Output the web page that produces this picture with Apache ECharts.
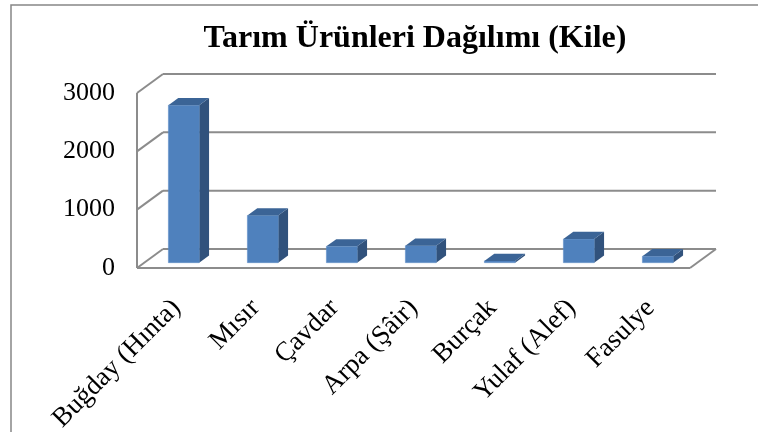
<!DOCTYPE html>
<html>
<head>
<meta charset="utf-8">
<script src="https://cdn.jsdelivr.net/npm/echarts@6/dist/echarts.min.js"></script>
<style>
  html, body { margin: 0; padding: 0; background: #fff; }
  #chart { width: 758px; height: 432px; }
</style>
</head>
<body>
<div id="chart"></div>
<script>
// veriler
var categories = ['Buğday (Hınta)', 'Mısır', 'Çavdar', 'Arpa (Şâir)', 'Burçak', 'Yulaf (Alef)', 'Fasulye'];
var values = [2700, 810, 280, 290, 30, 405, 110];
var yTicks = [0, 1000, 2000, 3000];

// 3B görünüm için derinlik kayması
var DX = 26, DY = -19;
var D0 = 0.28, D1 = 0.66;
var BAR_W = 0.39;
var lineStyle = { stroke: '#8c8c8c', lineWidth: 2 };

function seg(x1, y1, x2, y2) {
  return { type: 'line', shape: { x1: x1, y1: y1, x2: x2, y2: y2 }, style: lineStyle };
}

// duvarlar ve zemin
function renderWall(params, api) {
  var cs = params.coordSys;
  var v = api.value(1);
  var y = api.coord([0, v])[1];
  var x0 = cs.x, x1 = cs.x + cs.width;
  var children = [
    seg(x0 + DX, y + DY, x1 + DX, y + DY),
    seg(x0, y, x0 + DX, y + DY)
  ];
  if (v === 0) {
    var yTop = api.coord([0, yTicks[yTicks.length - 1]])[1];
    children.push(seg(x0, y, x1, y));
    children.push(seg(x1, y, x1 + DX, y + DY));
    children.push(seg(x0, y, x0, yTop));
  }
  return { type: 'group', children: children };
}

// 3B sütunlar
function renderBar(params, api) {
  var i = api.value(0), v = api.value(1);
  var p0 = api.coord([i, 0]);
  var p1 = api.coord([i, v]);
  var w = api.size([1, 0])[0] * BAR_W;
  var ox = D0 * DX, oy = D0 * DY;
  var bx = (D1 - D0) * DX, by = (D1 - D0) * DY;
  var xl = p0[0] + ox - w / 2, xr = xl + w;
  var yb = p0[1] + oy, yt = p1[1] + oy;
  return {
    type: 'group',
    children: [
      { type: 'polygon', shape: { points: [[xr, yt], [xr + bx, yt + by], [xr + bx, yb + by], [xr, yb]] },
        style: { fill: '#31527c' } },
      { type: 'rect', shape: { x: xl, y: yt, width: w, height: yb - yt },
        style: { fill: '#4f81bd', stroke: '#5b8cc7', lineWidth: 0.5 } },
      { type: 'polygon', shape: { points: [[xl, yt], [xl + bx, yt + by], [xr + bx, yt + by], [xr, yt]] },
        style: { fill: '#3b6496' } }
    ]
  };
}

var myChart = echarts.init(document.getElementById('chart'));

var option = {
  backgroundColor: '#fff',
  animation: false,
  title: {
    text: 'Tarım Ürünleri Dağılımı (Kile)',
    left: 410,
    top: 18,
    textAlign: 'center',
    textStyle: { fontFamily: 'Liberation Serif', fontSize: 32, fontWeight: 'bold', color: '#000' }
  },
  graphic: [{
    type: 'rect',
    shape: { x: 11, y: 5, width: 900, height: 600 },
    style: { fill: 'none', stroke: '#868686', lineWidth: 1.5 },
    z: -10
  }],
  grid: { left: 137, right: 68, top: 93, bottom: 164, outerBoundsMode: 'none', containLabel: false },
  xAxis: {
    type: 'category',
    data: categories,
    axisLine: { show: false },
    axisTick: { show: false },
    axisLabel: {
      rotate: 45,
      margin: 36,
      interval: 0,
      fontFamily: 'Liberation Serif',
      fontSize: 27,
      color: '#000'
    }
  },
  yAxis: {
    type: 'value',
    min: 0,
    max: 3000,
    interval: 1000,
    axisLine: { show: false },
    axisTick: { show: false },
    splitLine: { show: false },
    axisLabel: {
      margin: 22,
      padding: [6, 0, 0, 0],
      formatter: function (v) { return String(v); },
      fontFamily: 'Liberation Serif',
      fontSize: 26,
      color: '#000'
    }
  },
  series: [
    {
      type: 'custom',
      renderItem: renderWall,
      data: yTicks.map(function (v) { return [0, v]; }),
      encode: { x: 0, y: 1 },
      z: 1,
      silent: true
    },
    {
      type: 'custom',
      renderItem: renderBar,
      data: values.map(function (v, i) { return [i, v]; }),
      encode: { x: 0, y: 1 },
      z: 2
    }
  ]
};

myChart.setOption(option);
</script>
</body>
</html>
